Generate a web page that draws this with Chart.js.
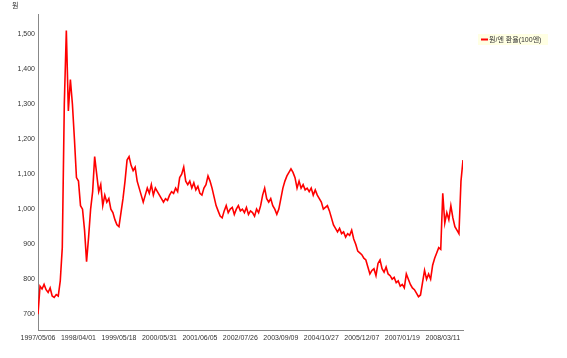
<!DOCTYPE html>
<html>
<head>
<meta charset="utf-8">
<script src="https://cdn.jsdelivr.net/npm/chart.js@4/dist/chart.umd.min.js"></script>
<style>
html,body{margin:0;padding:0;background:#fff;}
#c{display:block;}
</style>
</head>
<body>
<canvas id="c" width="567" height="358"></canvas>
<script>
// ---- data ----
const seriesLabel = '원/엔 환율(100엔)';
const unitLabel = '원';
const xTickLabels = ['1997/05/06','1998/04/01','1999/05/18','2000/05/31','2001/06/05','2002/07/26','2003/09/09','2004/10/27','2005/12/07','2007/01/19','2008/03/11'];
const xTickIndex = [0,20,40,60,80,100,120,140,160,180,200];
const yTickValues = [700,800,900,1000,1100,1200,1300,1400,1500];
const rateValues = [
  700,780,772,785,770,762,775,752,748,756,
  752,795,890,1300,1510,1280,1370,1300,1200,1090,
  1080,1010,1000,940,850,920,1000,1050,1150,1100,
  1050,1070,1010,1040,1020,1030,1000,990,970,955,
  950,990,1030,1080,1140,1150,1125,1110,1120,1080,
  1060,1040,1020,1040,1060,1045,1070,1040,1060,1050,
  1040,1030,1020,1030,1025,1040,1050,1045,1060,1050,
  1090,1100,1120,1080,1070,1080,1060,1075,1055,1065,
  1045,1040,1060,1070,1095,1080,1060,1035,1010,995,
  980,975,995,1010,990,1000,1005,985,1000,1010,
  995,1000,990,1005,985,995,990,980,1000,990,
  1010,1040,1060,1030,1020,1030,1010,1000,985,1000,
  1030,1060,1080,1095,1105,1115,1105,1090,1060,1080,
  1060,1070,1055,1060,1050,1060,1040,1055,1040,1030,
  1020,1000,1005,1010,995,975,955,945,935,945,
  930,935,920,930,925,940,915,900,880,875,
  870,860,855,835,815,825,830,810,845,855,
  830,820,835,815,810,800,805,790,795,780,
  785,775,815,800,785,775,770,760,750,755,
  790,825,800,815,800,840,860,875,890,885,
  1045,960,990,970,1010,975,950,940,930,1080,
  1140
];
const yMin = 655, yMax = 1557;

const FONT = "'Liberation Sans', Arial, 'Noto Sans CJK KR', sans-serif";

const extras = {
  id: 'extras',
  beforeDraw(chart) {
    const ctx = chart.ctx;
    ctx.save();
    ctx.fillStyle = '#ffffff';
    ctx.fillRect(0, 0, chart.width, chart.height);
    ctx.restore();
  },
  afterDraw(chart) {
    const ctx = chart.ctx;
    ctx.save();
    ctx.font = "7px " + FONT;
    ctx.fillStyle = '#333';
    ctx.textBaseline = 'middle';
    ctx.textAlign = 'left';
    ctx.fillText(unitLabel, 12, 6);
    ctx.fillStyle = '#ffffe3';
    ctx.fillRect(478, 34, 70, 11);
    ctx.strokeStyle = '#ff0000';
    ctx.lineWidth = 2;
    ctx.beginPath();
    ctx.moveTo(481, 39.5);
    ctx.lineTo(488, 39.5);
    ctx.stroke();
    ctx.fillStyle = '#333';
    ctx.font = "7px " + FONT;
    ctx.fillText(chart.data.datasets[0].label, 489, 40);
    ctx.restore();
  }
};

new Chart(document.getElementById('c'), {
  type: 'line',
  data: {
    datasets: [{
      label: seriesLabel,
      data: rateValues.map((v, i) => ({x: i, y: v})),
      borderColor: '#ff0000',
      backgroundColor: '#ff0000',
      borderWidth: 1.6,
      pointRadius: 0,
      tension: 0,
      fill: false
    }]
  },
  options: {
    responsive: false,
    animation: false,
    layout: {padding: {left: 0, top: 14, right: 104, bottom: 0}},
    plugins: {legend: {display: false}, tooltip: {enabled: false}},
    scales: {
      x: {
        type: 'linear',
        min: 0,
        max: rateValues.length - 1,
        grid: {display: false, drawTicks: false},
        border: {display: true, color: '#888', width: 1},
        afterBuildTicks(scale) { scale.ticks = xTickIndex.map(v => ({value: v})); },
        afterFit(scale) { scale.height = 28; },
        ticks: {
          autoSkip: false, maxRotation: 0, minRotation: 0, padding: 4,
          color: '#333', font: {size: 7, family: FONT},
          callback: (v) => { const k = xTickIndex.indexOf(v); return k >= 0 ? xTickLabels[k] : ''; }
        }
      },
      y: {
        type: 'linear',
        min: yMin,
        max: yMax,
        grid: {display: false, drawTicks: false},
        border: {display: true, color: '#888', width: 1},
        afterBuildTicks(scale) { scale.ticks = yTickValues.map(v => ({value: v})); },
        afterFit(scale) { scale.width = 38; },
        ticks: {
          padding: 3,
          color: '#333', font: {size: 7, family: FONT},
          callback: (v) => v.toLocaleString('en-US')
        }
      }
    }
  },
  plugins: [extras]
});
</script>
</body>
</html>
